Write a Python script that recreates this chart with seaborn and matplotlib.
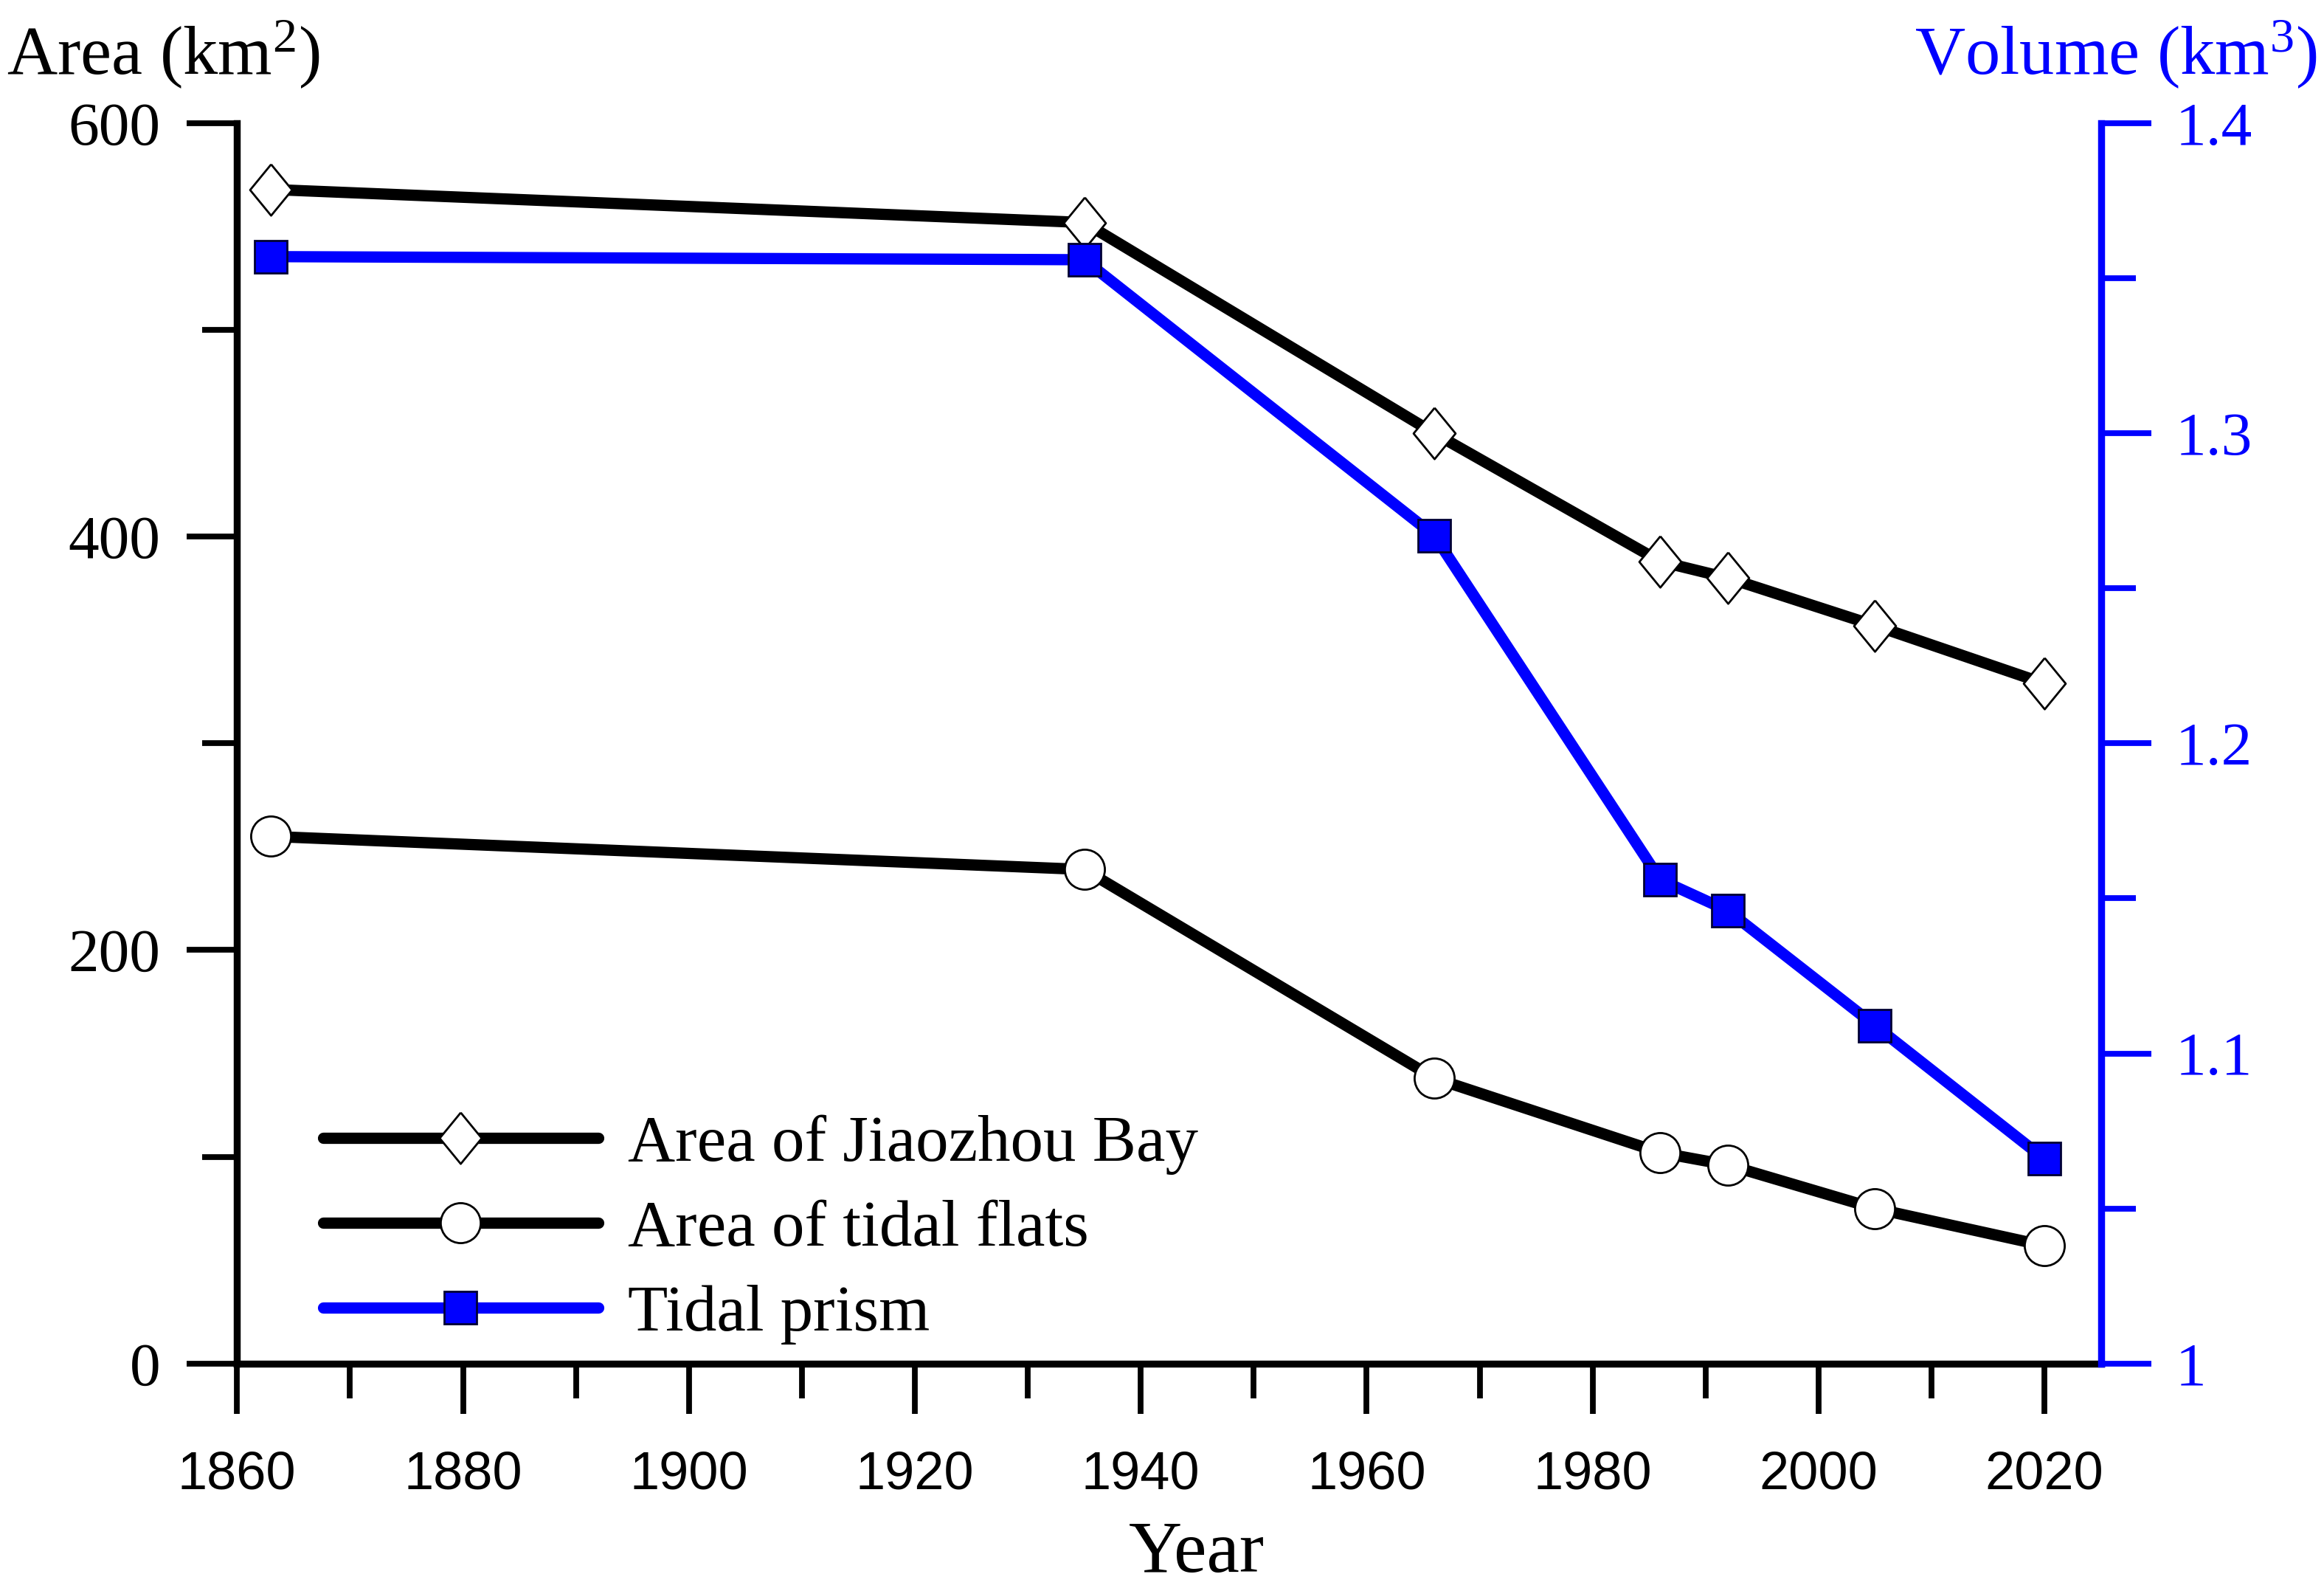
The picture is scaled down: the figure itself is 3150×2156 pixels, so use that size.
import matplotlib
matplotlib.use("Agg")
import matplotlib.pyplot as plt
import matplotlib.ticker as mticker
import seaborn as sns

# data
years = [1863, 1935, 1966, 1986, 1992, 2005, 2020]
bay_area = [568, 552, 450, 388, 380, 357, 329]
flat_area = [255, 239, 138, 102, 96, 75, 57]
tidal_prism = [1.357, 1.356, 1.267, 1.156, 1.146, 1.109, 1.066]

sns.set_style("ticks")
plt.rcParams["font.family"] = ["Liberation Serif", "DejaVu Serif"]
plt.rcParams["mathtext.fontset"] = "custom"
plt.rcParams["mathtext.rm"] = "Liberation Serif"
plt.rcParams["mathtext.it"] = "Liberation Serif:italic"
plt.rcParams["text.color"] = "black"
plt.rcParams["axes.labelcolor"] = "black"
plt.rcParams["xtick.color"] = "black"
plt.rcParams["ytick.color"] = "black"

BLUE = "#0000FF"
diamond = [(0, 1), (0.82, 0), (0, -1), (-0.82, 0), (0, 1)]

fig = plt.figure(figsize=(15.75, 10.78), dpi=200)
ax = fig.add_axes([0.102, 0.143, 0.802, 0.7795])
ax2 = ax.twinx()

sns.lineplot(x=years, y=bay_area, ax=ax, color="black", linewidth=5.5,
             marker=diamond, markersize=25, markerfacecolor="white",
             markeredgecolor="black", markeredgewidth=1,
             label="Area of Jiaozhou Bay", legend=False)
sns.lineplot(x=years, y=flat_area, ax=ax, color="black", linewidth=5.5,
             marker="o", markersize=19.5, markerfacecolor="white",
             markeredgecolor="black", markeredgewidth=1,
             label="Area of tidal flats", legend=False)
sns.lineplot(x=years, y=tidal_prism, ax=ax2, color=BLUE, linewidth=5.5,
             marker="s", markersize=16, markerfacecolor=BLUE,
             markeredgecolor="#000033", markeredgewidth=1,
             label="Tidal prism", legend=False)

ax.set_xlim(1860, 2025)
ax.set_ylim(0, 600)
ax2.set_ylim(1.0, 1.4)

ax.xaxis.set_major_locator(mticker.MultipleLocator(20))
ax.xaxis.set_minor_locator(mticker.MultipleLocator(10))
ax.yaxis.set_major_locator(mticker.MultipleLocator(200))
ax.yaxis.set_minor_locator(mticker.MultipleLocator(100))
ax2.yaxis.set_major_locator(mticker.MultipleLocator(0.1))
ax2.yaxis.set_minor_locator(mticker.MultipleLocator(0.05))
ax2.yaxis.set_major_formatter(mticker.FormatStrFormatter("%g"))

for a in (ax, ax2):
    for s in a.spines.values():
        s.set_visible(False)
for side in ("left", "bottom"):
    ax.spines[side].set_visible(True)
    ax.spines[side].set_linewidth(3.4)
    ax.spines[side].set_color("black")
ax2.spines["right"].set_visible(True)
ax2.spines["right"].set_linewidth(3.4)
ax2.spines["right"].set_color(BLUE)

ax.tick_params(axis="both", which="major", direction="out", length=24.5,
               width=2.8, color="black")
ax.tick_params(axis="both", which="minor", direction="out", length=17,
               width=2.8, color="black")
ax.tick_params(axis="y", which="major", labelsize=30, pad=13)
ax.tick_params(axis="x", which="major", labelsize=26, pad=18)
for lab in ax.get_xticklabels():
    lab.set_fontfamily(["Liberation Sans", "DejaVu Sans"])

ax2.tick_params(axis="y", which="major", direction="out", length=24.5,
                width=2.8, color=BLUE, labelcolor=BLUE, labelsize=30, pad=12)
ax2.tick_params(axis="y", which="minor", direction="out", length=17,
                width=2.8, color=BLUE)

ax.set_xlabel("")
ax.set_ylabel("")
ax2.set_ylabel("")

fig.text(0.003, 0.953, "Area (km$^2$)", fontsize=34, ha="left",
         va="baseline")
fig.text(0.997, 0.953, "Volume (km$^3$)", fontsize=34, ha="right",
         va="baseline", color=BLUE)
fig.text(0.515, 0.012, "Year", fontsize=36, ha="center", va="baseline")

h1, l1 = ax.get_legend_handles_labels()
h2, l2 = ax2.get_legend_handles_labels()
ax2.legend(h1 + h2, l1 + l2, loc="center left",
           bbox_to_anchor=(0.046, 0.108), frameon=False, fontsize=32,
           handlelength=4.2, handletextpad=0.45, labelspacing=0.38,
           borderpad=0, borderaxespad=0, numpoints=1)

fig.savefig("out.png", dpi=200)
